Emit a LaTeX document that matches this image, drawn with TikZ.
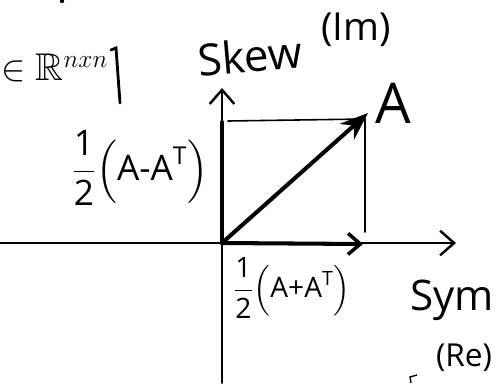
\documentclass[tikz,border=0pt]{standalone}
\usepackage{amsmath}
\usepackage{amssymb}
\usepackage{fontspec}
\setmainfont{Open Sans}
\usetikzlibrary{arrows.meta}
\begin{document}
\begin{tikzpicture}[x=0.02cm,y=-0.02cm,
  axis/.style={line width=1.1pt,line cap=round},
  vec/.style={line width=2.3pt,line cap=round},
  guide/.style={line width=0.9pt,line cap=round},
  chev/.style={-{Straight Barb[length=8pt,width=14pt,line width=1.4pt]}},
  lbl/.style={inner sep=0pt,text=black}]
\useasboundingbox (0,0) rectangle (496,383);
% key points
\coordinate (O) at (222,243);
\coordinate (XL) at (0,243);
\coordinate (XR) at (456,243);
\coordinate (YB) at (222,383);
\coordinate (YT) at (222,88);
\coordinate (S) at (363,244);
\coordinate (K) at (222,122);
\coordinate (P) at (368,113);
\coordinate (TL) at (228,121);
\coordinate (TR) at (365,119);
\coordinate (RB) at (365,232);
% axes
\draw[axis,chev] (XL) -- (XR);
\draw[axis,chev] (YB) -- (YT);
% components
\draw[vec] (O) -- (K);
\draw[vec,-{Straight Barb[length=7pt,width=12pt,line width=2pt]}] (O) -- (S);
\draw[guide] (TL) -- (TR);
\draw[guide] (TR) -- (RB);
\draw[vec,-{Stealth[length=16pt,width=12pt]}] (O) -- (P);
% labels
\node[lbl,font=\fontsize{32}{36}\selectfont] (A) at (393,103) {A};
\node[lbl,rotate=5,font=\fontsize{25}{28}\selectfont] (skew) at (250,56) {Skew};
\node[lbl,font=\fontsize{22}{26}\selectfont] (im) at (356,30) {(Im)};
\node[lbl,font=\fontsize{20}{22}\selectfont] (skewpart) at (140,168)
  {$\dfrac{\text{1}}{\text{2}}\Bigl(\text{A-A}^{\text{T}}\Bigr)$};
\node[lbl,font=\fontsize{16}{18}\selectfont] (sympart) at (292,288)
  {$\dfrac{\text{1}}{\text{2}}\Bigl(\text{A+A}^{\text{T}}\Bigr)$};
\node[lbl,font=\fontsize{24}{28}\selectfont] (sym) at (452,300) {Sym};
\node[lbl,font=\fontsize{18}{20}\selectfont] (re) at (464,358) {(Re)};
\node[lbl,anchor=west,font=\fontsize{22}{26}\selectfont] (set) at (1,68)
  {$\in\mathbb{R}^{nxn}$};
% bar after the set
\coordinate (b1) at (111,50);
\coordinate (b2) at (116,48);
\coordinate (b3) at (120,103);
\draw[line width=1.6pt,line cap=round] (b1) -- (b2) -- (b3);
% stray marks
\fill (62,1) circle (2.2);
\coordinate (m1) at (410,377);
\coordinate (m2) at (417,375);
\coordinate (m3) at (411,383);
\draw[line width=0.8pt] (m2) -- (m1) -- (m3);
\end{tikzpicture}
\end{document}
